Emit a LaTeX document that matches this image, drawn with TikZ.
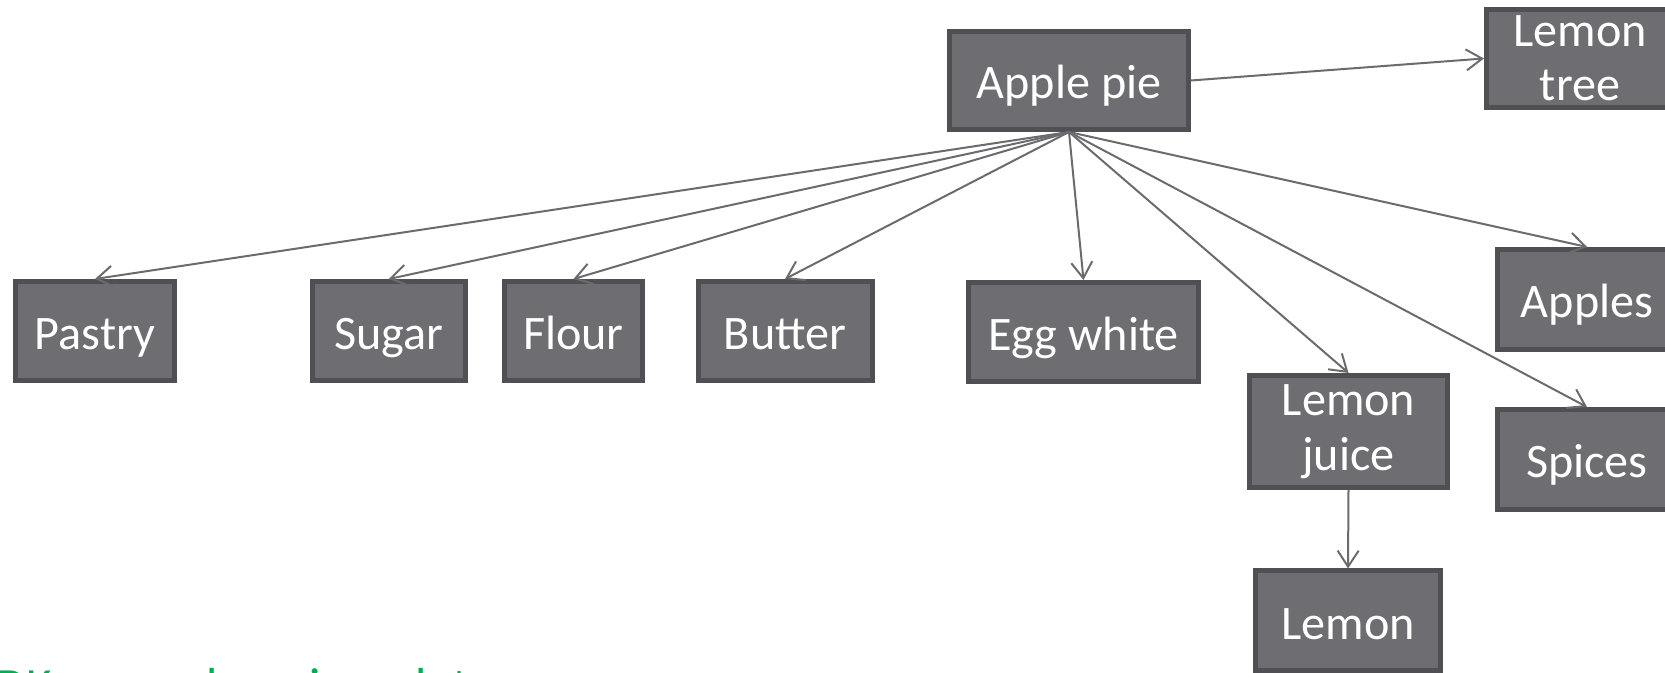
\documentclass[tikz,border=0pt]{standalone}
\usepackage{fontspec}
\setmainfont{Carlito}
\usetikzlibrary{arrows.meta}

\definecolor{boxfill}{HTML}{6E6D72}
\definecolor{boxline}{HTML}{505054}
\definecolor{arrowgray}{HTML}{6B6B6E}
\definecolor{titlegreen}{HTML}{00B050}

\begin{document}
\begin{tikzpicture}[>={Straight Barb[length=0.32cm,width=0.42cm]},
  food/.style={draw=boxline, line width=0.1cm, fill=boxfill, text=white,
    inner sep=0pt, align=center, font=\fontsize{27.4}{31}\selectfont},
  word/.style={food, text height=22pt, text depth=1.5pt},
  link/.style={->, draw=arrowgray, line width=0.04cm}]
  \useasboundingbox (0,0) rectangle (33.3,13.46);
  \clip (0,0) rectangle (33.3,13.46);

  % top
  \node[word, minimum width=4.78cm, minimum height=1.96cm] (pie) at (21.38,11.85) {Apple pie};
  \node[food, minimum width=3.74cm, minimum height=1.96cm] (tree) at (31.6,12.29) {Lemon\\tree};

  % ingredients row
  \node[word, minimum width=3.18cm, minimum height=1.98cm] (pastry) at (1.9,6.84) {Pastry};
  \node[word, minimum width=3.06cm, minimum height=1.98cm] (sugar) at (7.78,6.84) {Sugar};
  \node[word, minimum width=2.76cm, minimum height=1.98cm] (flour) at (11.47,6.84) {Flour};
  \node[word, minimum width=3.48cm, minimum height=1.98cm] (butter) at (15.7,6.84) {Butter};
  \node[word, minimum width=4.6cm, minimum height=1.98cm] (egg) at (21.67,6.82) {Egg white};
  \node[food, minimum width=3.96cm, minimum height=2.24cm] (juice) at (26.97,4.83) {Lemon\\juice};
  \node[word, minimum width=3.7cm, minimum height=2.0cm] (lemon) at (26.96,1.04) {Lemon};
  \node[word, minimum width=3.58cm, minimum height=2.0cm] (apples) at (31.74,7.47) {Apples};
  \node[word, minimum width=3.58cm, minimum height=2.0cm] (spices) at (31.74,4.27) {Spices};

  % links
  \draw[link] (pie.east) -- (tree.west);
  \foreach \n in {pastry,sugar,flour,butter,egg,juice,apples,spices}
    \draw[link] (pie.south) -- (\n.north);
  \draw[link] (juice.south) -- (lemon.north);

  % heading below, mostly off the page
  \node[anchor=base west, inner sep=0pt, text=titlegreen,
    font=\fontsize{28}{34}\selectfont] (title) at (-0.08,-0.6) {DK means learning a lot more};
\end{tikzpicture}
\end{document}
